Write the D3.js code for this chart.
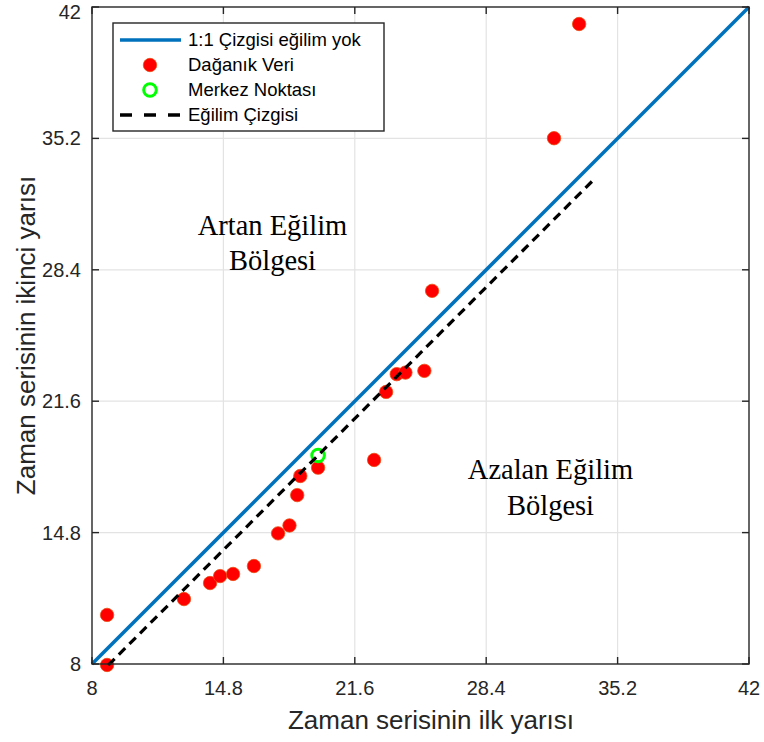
<!DOCTYPE html>
<html><head><meta charset="utf-8">
<script src="https://cdn.jsdelivr.net/npm/d3@7"></script>
<style>body{margin:0;background:#fff}svg{display:block}</style>
</head><body>
<script>
const xTicks=[8,14.8,21.6,28.4,35.2,42];
const yTicks=[8,14.8,21.6,28.4,35.2,42];
const ptsX=[8.78,8.78,12.76,14.11,14.63,15.30,16.38,17.63,18.22,18.62,18.78,19.70,22.60,23.22,23.77,24.22,25.20,25.60,31.91,33.21];
const ptsY=[10.54,7.95,11.36,12.19,12.55,12.66,13.07,14.76,15.17,16.74,17.73,18.16,18.56,22.08,23.00,23.08,23.17,27.31,35.21,41.12];
const centerX=[19.70], centerY=[18.79];
const refX=[8,42], refY=[8,42];
const trendX=[8.84,34.08], trendY=[7.94,33.18];
const legendLabels=["1:1 Çizgisi eğilim yok","Dağanık Veri","Merkez Noktası","Eğilim Çizgisi"];

const W=764,H=742;
const L=92,R=749,T=7,B=664;
const svg=d3.select("body").append("svg").attr("width",W).attr("height",H);
const x=d3.scaleLinear().domain([8,42]).range([L,R]);
const y=d3.scaleLinear().domain([8,42]).range([B,T]);
const axC="#262626";

// grid
const g=svg.append("g");
g.selectAll(".gx").data(xTicks.slice(1,-1)).enter().append("line")
 .attr("x1",d=>x(d)).attr("x2",d=>x(d)).attr("y1",T).attr("y2",B)
 .attr("stroke","#e3e3e3").attr("stroke-width",1.2);
g.selectAll(".gy").data(yTicks.slice(1,-1)).enter().append("line")
 .attr("y1",d=>y(d)).attr("y2",d=>y(d)).attr("x1",L).attr("x2",R)
 .attr("stroke","#e3e3e3").attr("stroke-width",1.2);

// 1:1 line
svg.append("line").attr("x1",x(refX[0])).attr("y1",y(refY[0])).attr("x2",x(refX[1])).attr("y2",y(refY[1]))
 .attr("stroke","#0072BD").attr("stroke-width",3.6);

// scatter
svg.selectAll(".pt").data(ptsX.map((v,i)=>[v,ptsY[i]])).enter().append("circle")
 .attr("cx",d=>x(d[0])).attr("cy",d=>y(d[1])).attr("r",6.7)
 .attr("fill","#ff0000").attr("stroke","#ee4a10").attr("stroke-width",0.8);

// center
svg.append("circle").attr("cx",x(centerX[0])).attr("cy",y(centerY[0])).attr("r",6.3)
 .attr("fill","none").attr("stroke","#00ff00").attr("stroke-width",3);

// trend
svg.append("line").attr("x1",x(trendX[0])).attr("y1",y(trendY[0])).attr("x2",x(trendX[1])).attr("y2",y(trendY[1]))
 .attr("stroke","#000").attr("stroke-width",3.2).attr("stroke-dasharray","9,6");

// axes box
svg.append("rect").attr("x",L).attr("y",T).attr("width",R-L).attr("height",B-T)
 .attr("fill","none").attr("stroke",axC).attr("stroke-width",1.4);
const tk=svg.append("g").attr("stroke",axC).attr("stroke-width",1.4);
xTicks.forEach(v=>{
  tk.append("line").attr("x1",x(v)).attr("x2",x(v)).attr("y1",B).attr("y2",B-7);
  tk.append("line").attr("x1",x(v)).attr("x2",x(v)).attr("y1",T).attr("y2",T+7);
});
yTicks.forEach(v=>{
  tk.append("line").attr("y1",y(v)).attr("y2",y(v)).attr("x1",L).attr("x2",L+7);
  tk.append("line").attr("y1",y(v)).attr("y2",y(v)).attr("x1",R).attr("x2",R-7);
});

const fs="Liberation Sans, Arial, sans-serif";
svg.selectAll(".xl").data(xTicks).enter().append("text")
 .attr("x",d=>x(d)).attr("y",B+31).attr("text-anchor","middle")
 .attr("font-family",fs).attr("font-size",20).attr("fill",axC).text(d=>d);
svg.selectAll(".yl").data(yTicks).enter().append("text")
 .attr("x",L-11).attr("y",d=>Math.max(y(d)+7,19)).attr("text-anchor","end")
 .attr("font-family",fs).attr("font-size",20).attr("fill",axC).text(d=>d);

svg.append("text").attr("x",431).attr("y",729).attr("text-anchor","middle")
 .attr("font-family",fs).attr("font-size",26).attr("fill",axC).text("Zaman serisinin ilk yarısı");
svg.append("text").attr("transform","translate(35,"+((T+B)/2)+") rotate(-90)").attr("text-anchor","middle")
 .attr("font-family",fs).attr("font-size",26).attr("fill",axC).text("Zaman serisinin ikinci yarısı");

// region annotations
const sf="Liberation Serif, Times New Roman, serif";
[[272.5,235,"Artan Eğilim"],[272.5,270,"Bölgesi"],[550.5,479,"Azalan Eğilim"],[550.5,515,"Bölgesi"]].forEach(a=>{
  svg.append("text").attr("x",a[0]).attr("y",a[1]).attr("text-anchor","middle")
   .attr("font-family",sf).attr("font-size",28.5).attr("fill","#000").text(a[2]);
});

// legend
const lg=svg.append("g");
lg.append("rect").attr("x",113).attr("y",23).attr("width",271).attr("height",108)
 .attr("fill","#fff").attr("stroke",axC).attr("stroke-width",1.4);
const rows=[40,65,90,115];
lg.append("line").attr("x1",120).attr("x2",181).attr("y1",rows[0]).attr("y2",rows[0]).attr("stroke","#0072BD").attr("stroke-width",3.6);
lg.append("circle").attr("cx",150).attr("cy",rows[1]).attr("r",6.7).attr("fill","#ff0000").attr("stroke","#ee4a10").attr("stroke-width",0.8);
lg.append("circle").attr("cx",150).attr("cy",rows[2]).attr("r",6.3).attr("fill","none").attr("stroke","#00ff00").attr("stroke-width",3);
lg.append("line").attr("x1",120).attr("x2",181).attr("y1",rows[3]).attr("y2",rows[3]).attr("stroke","#000").attr("stroke-width",3.4).attr("stroke-dasharray","12,12");
legendLabels.forEach((t,i)=>{
  lg.append("text").attr("x",188).attr("y",rows[i]+6).attr("font-family",fs).attr("font-size",18.5).attr("fill","#000").text(t);
});
</script>
</body></html>
